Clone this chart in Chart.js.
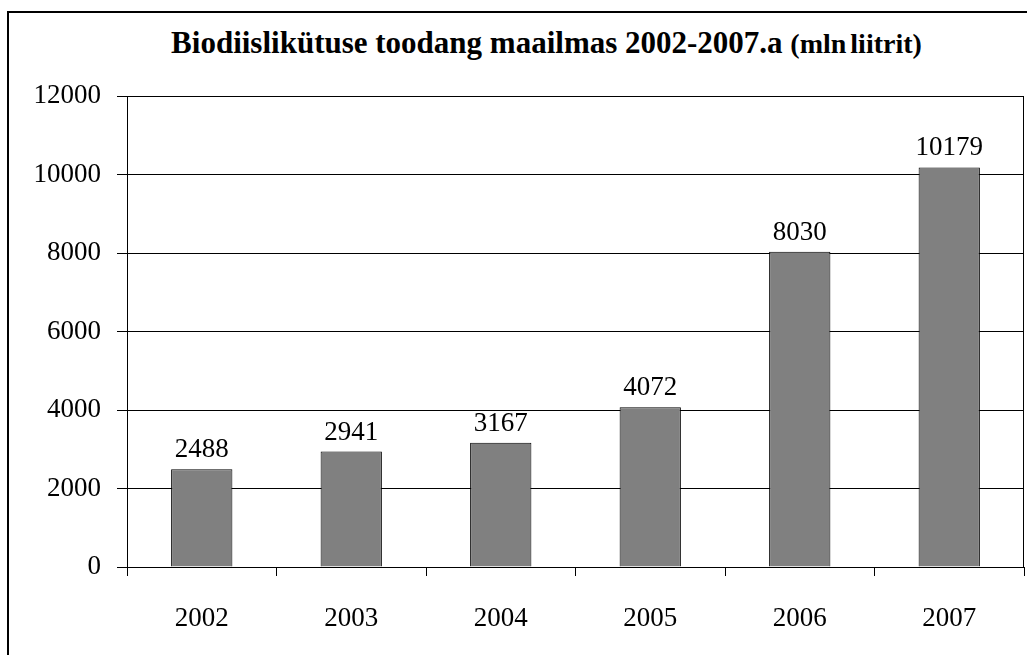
<!DOCTYPE html>
<html><head><meta charset="utf-8">
<script src="https://cdn.jsdelivr.net/npm/chart.js@4/dist/chart.umd.min.js"></script>
<style>
html,body{margin:0;padding:0;background:#fff;overflow:hidden}
#wrap{position:relative;width:1027px;height:655px;background:#fff}
#frame{position:absolute;left:7px;top:11px;width:1100px;height:700px;border:2px solid #000;box-sizing:border-box}
#title{position:absolute;top:27px;left:0;width:1093px;text-align:center;font-family:"Times New Roman","Liberation Serif",serif;font-weight:bold;font-size:31px;line-height:31px;color:#000;white-space:nowrap}
#title span{font-size:28px;word-spacing:-3px}
canvas{position:absolute;left:0;top:0}
</style></head>
<body>
<div id="wrap">
<div id="frame"></div>
<div id="title">Biodiislikütuse toodang maailmas 2002-2007.a <span>(mln liitrit)</span></div>
<canvas id="c" width="1027" height="655"></canvas>
</div>
<script>
const categories = ['2002', '2003', '2004', '2005', '2006', '2007'];
const production = [2488, 2941, 3167, 4072, 8030, 10179];
const yMin = 0, yMax = 12000, yStep = 2000;

const FONT = '"Times New Roman", "Liberation Serif", serif';

const frameAndLabels = {
  id: 'frameAndLabels',
  afterDraw(chart) {
    const {ctx, chartArea: a} = chart;
    ctx.save();
    ctx.strokeStyle = '#000';
    ctx.lineWidth = 1;
    ctx.strokeRect(Math.round(a.left) + 0.5, Math.round(a.top) + 0.5, Math.round(a.right - a.left) - 1, Math.round(a.bottom - a.top));
    const meta = chart.getDatasetMeta(0);
    ctx.fillStyle = '#000';
    ctx.font = '27px ' + FONT;
    ctx.textAlign = 'center';
    ctx.textBaseline = 'alphabetic';
    meta.data.forEach((bar, i) => {
      ctx.fillText(String(chart.data.datasets[0].data[i]), bar.x, bar.y - 12);
    });
    ctx.restore();
  }
};

new Chart(document.getElementById('c'), {
  type: 'bar',
  data: {
    labels: categories,
    datasets: [{
      data: production,
      backgroundColor: '#808080',
      borderColor: '#000',
      borderWidth: 1,
      barPercentage: 0.41,
      categoryPercentage: 1
    }]
  },
  options: {
    responsive: false,
    animation: false,
    layout: {padding: {top: 96, right: 3, left: 0, bottom: 0}},
    plugins: {legend: {display: false}, tooltip: {enabled: false}, title: {display: false}},
    scales: {
      x: {
        offset: true,
        grid: {offset: true, drawOnChartArea: false, drawTicks: true, tickLength: 9, color: '#000'},
        border: {color: '#000', width: 1},
        ticks: {font: {family: FONT, size: 27}, color: '#000', padding: 27},
        afterFit(s) { s.height = 88; }
      },
      y: {
        min: yMin, max: yMax,
        ticks: {stepSize: yStep, font: {family: FONT, size: 27}, color: '#000', padding: 16,
                callback: (v) => String(v)},
        grid: {color: '#000', tickLength: 10},
        border: {color: '#000', width: 1},
        afterFit(s) { s.width = 127; }
      }
    }
  },
  plugins: [frameAndLabels]
});
</script>
</body></html>
